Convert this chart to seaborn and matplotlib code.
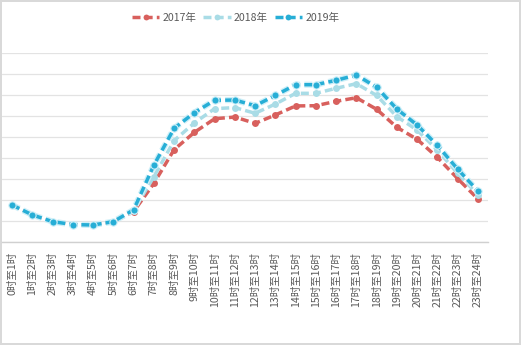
import numpy as np
import pandas as pd
import seaborn as sns
import matplotlib
matplotlib.use("Agg")
import matplotlib.pyplot as plt
from matplotlib.lines import Line2D

hours = [f"{h}时至{h+1}时" for h in range(24)]
years = ["2017年", "2018年", "2019年"]
v2017 = [1.76, 1.29, 0.97, 0.83, 0.81, 0.95, 1.45, 2.79, 4.40, 5.22, 5.87, 5.95,
         5.65, 6.05, 6.48, 6.49, 6.70, 6.87, 6.32, 5.46, 4.89, 4.03, 3.02, 2.05]
v2018 = [1.76, 1.29, 0.97, 0.83, 0.81, 0.96, 1.50, 3.11, 4.83, 5.67, 6.35, 6.40,
         6.13, 6.57, 7.08, 7.08, 7.32, 7.54, 6.98, 5.97, 5.33, 4.38, 3.27, 2.25]
v2019 = [1.76, 1.29, 0.97, 0.83, 0.81, 0.97, 1.53, 3.66, 5.41, 6.16, 6.75, 6.76,
         6.49, 6.98, 7.49, 7.49, 7.70, 7.95, 7.37, 6.33, 5.57, 4.60, 3.47, 2.43]
colors = ["#D8605D", "#A9DCE6", "#27AED6"]
halo = "#cdeff8"

positions = list(range(24))
df = pd.DataFrame({
    "pos": positions * 3,
    "value": v2017 + v2018 + v2019,
    "year": sum([[y] * 24 for y in years], []),
})

sns.set_theme(style="white")
plt.rcParams["font.family"] = ["Noto Sans CJK SC", "DejaVu Sans"]

fig = plt.figure(figsize=(5.21, 3.45), dpi=100)
ax = fig.add_axes([2/521, (345-242)/345, 486/521, 189/345])

DASH = [2.3, 1.2]

# 2017 and 2018
sub = df[df["year"] != years[2]]
sns.lineplot(data=sub, x="pos", y="value", hue="year", hue_order=years[:2],
             palette=colors[:2], marker="o", markersize=5, markeredgewidth=0,
             linewidth=2.5, ax=ax, legend=False, sort=False)
# 2019 glow
sns.lineplot(x=positions, y=v2019, color=halo, linewidth=4.4, ax=ax,
             legend=False, sort=False)
n_before = len(ax.get_lines())
sns.lineplot(x=positions, y=v2019, color=colors[2], marker="o", markersize=5.2,
             markeredgewidth=0.8, markeredgecolor=halo,
             linewidth=2.5, ax=ax, legend=False, sort=False)

for i, line in enumerate(ax.get_lines()):
    line.set_zorder(3 + i)
    if i == 2:
        line.set_dashes([(2.3 * 2.5 + 0.0) / 4.4, (1.2 * 2.5) / 4.4])
        line.set_dash_capstyle("butt")
        line.set_zorder(3 + i)
    else:
        line.set_dashes(DASH)

ax.set_xlim(-0.5, 23.5)
ax.set_ylim(0, 9)
ax.set_yticks(np.arange(0, 10, 1))
ax.set_yticklabels([])
ax.tick_params(axis="y", length=0)
ax.grid(axis="y", color="#e3e3e3", linewidth=0.9)
ax.set_axisbelow(True)
ax.set_xticks(positions)
ax.set_xticklabels(hours, rotation=90, fontsize=7.6, color="#595959")
ax.tick_params(axis="x", length=0, pad=7)
ax.set_xlabel("")
ax.set_ylabel("")
for s in ["top", "right", "left"]:
    ax.spines[s].set_visible(False)
ax.spines["bottom"].set_color("#d0d0d0")
ax.spines["bottom"].set_linewidth(1.0)

handles = []
for c in colors:
    handles.append(Line2D([], [], color=c, linewidth=2.5, marker="o", markersize=4.2,
                          markeredgewidth=0, dashes=DASH))
fig.legend(handles, years, loc="center", bbox_to_anchor=(235.5/521, 1-18/345),
           ncol=3, frameon=False, fontsize=7.6, labelcolor="#595959",
           handlelength=2.6, handletextpad=0.3, columnspacing=0.65)

fig.patch.set_edgecolor("#d9d9d9")
fig.patch.set_linewidth(1.5)
fig.savefig("out.png", dpi=100, edgecolor=fig.get_edgecolor())
